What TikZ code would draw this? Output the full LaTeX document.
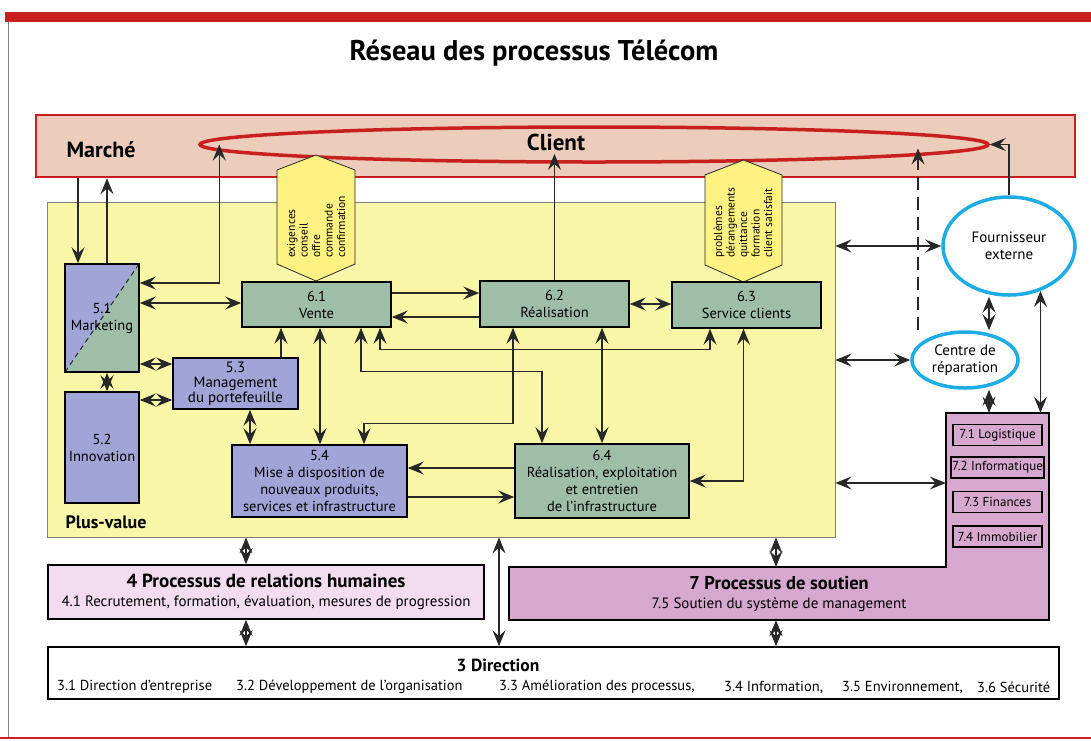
\documentclass[tikz,border=0pt]{standalone}
\usepackage{fontspec}
\setmainfont{PT Sans}
\usetikzlibrary{arrows.meta,shapes.geometric}

\definecolor{bandred}{RGB}{200,32,30}
\definecolor{peach}{RGB}{236,204,186}
\definecolor{pvyellow}{RGB}{250,246,168}
\definecolor{hexyellow}{RGB}{255,242,130}
\definecolor{boxblue}{RGB}{160,164,214}
\definecolor{boxgreen}{RGB}{158,190,168}
\definecolor{rhpink}{RGB}{243,220,240}
\definecolor{soutmauve}{RGB}{215,168,207}
\definecolor{ringcyan}{RGB}{30,172,228}
\definecolor{linegray}{RGB}{40,40,40}

\tikzset{bigtip/.tip={Stealth[length=16pt,width=13pt,inset=6pt]}}

\begin{document}
\begin{tikzpicture}[x=1pt,y=-1pt,
    conn/.style={draw=linegray,line width=1.1pt},
    onearrow/.style={conn,-bigtip},
    twoarrow/.style={conn,bigtip-bigtip},
    proc/.style={draw=black,line width=1.6pt,inner sep=0pt,align=center,font=\fontsize{14.5}{17}\selectfont},
    procblue/.style={proc,fill=boxblue},
    procgreen/.style={proc,fill=boxgreen},
    subproc/.style={draw=black,line width=1.4pt,fill=soutmauve,minimum width=89pt,minimum height=21pt,inner sep=1pt,font=\fontsize{13}{14}\selectfont},
    hextext/.style={rotate=90,anchor=west,align=left,inner sep=0pt,font=\fontsize{11.5}{12.5}\selectfont},
    hexbox/.style={fill=hexyellow,draw=linegray,line width=0.8pt},
    partner/.style={ellipse,draw=ringcyan,line width=3.5pt,fill=white,inner sep=0pt,align=center,font=\fontsize{15}{17}\selectfont},
    headtext/.style={font=\fontsize{23}{26}\selectfont\bfseries},
    grouptext/.style={inner sep=0pt,align=center,font=\fontsize{15}{19}\selectfont},
    dirtext/.style={anchor=west,inner sep=0pt,font=\fontsize{14.5}{16}\selectfont}]

  \useasboundingbox (0,0) rectangle (1091,740);
  \fill[white] (0,0) rectangle (1091,740);
  \fill[bandred] (5,12) rectangle (1091,22);
  \draw[gray,line width=0.8pt] (8,22) -- (8,737);
  \draw[bandred,line width=1.5pt] (0,738) -- (1091,738);

  \node[font=\fontsize{28.5}{32}\selectfont\bfseries] (titre) at (534,53) {Réseau des processus Télécom};

  \node[draw=bandred,line width=2.5pt,fill=peach,minimum width=1039pt,minimum height=62pt] (market) at (555.5,146) {};
  \node[ellipse,draw=bandred,line width=3.5pt,minimum width=788pt,minimum height=35pt,inner sep=0pt] (ring) at (594,144.5) {};
  \node[headtext,font=\fontsize{22}{26}\selectfont\bfseries] (marche) at (101,150) {Marché};
  \node[headtext] (client) at (556,142) {Client};

  \node[draw=gray,line width=0.8pt,fill=pvyellow,minimum width=788pt,minimum height=335pt] (pv) at (441,369.5) {};
  \node[font=\fontsize{18}{20}\selectfont\bfseries] (pvlabel) at (106,522) {Plus-value};

  \filldraw[hexbox] (316,155) -- (355,170) -- (355,264) -- (316,281) -- (277,264) -- (277,170) -- cycle;
  \node[hextext] (exig) at (316,258) {exigences\\conseil\\offre\\commande\\confirmation};
  \filldraw[hexbox] (743.5,160) -- (782,175) -- (782,265) -- (743.5,282) -- (705,265) -- (705,175) -- cycle;
  \node[hextext] (probl) at (743,258) {problèmes\\dérangements\\quittance\\formation\\client satisfait};

  \node[procgreen,minimum width=74pt,minimum height=108pt,
    path picture={\fill[boxblue] (path picture bounding box.south west) -- (path picture bounding box.north west) -- (path picture bounding box.north east) -- cycle;
      \draw[linegray,line width=1pt,dash pattern=on 5pt off 4pt] (path picture bounding box.south west) -- (path picture bounding box.north east);}]
    (mkt) at (102,318) {5.1\\Marketing};
  \node[procblue,minimum width=74pt,minimum height=111pt] (inno) at (102,447.5) {5.2\\Innovation};
  \node[procblue,minimum width=125pt,minimum height=51pt,font=\fontsize{15}{15}\selectfont] (portf) at (235.5,383.5) {5.3\\Management\\du portefeuille};
  \node[procblue,minimum width=175pt,minimum height=72pt] (mad) at (319.5,481) {5.4\\Mise à disposition de\\nouveaux produits,\\services et infrastructure};
  \node[procgreen,minimum width=149pt,minimum height=45pt] (vente) at (316.5,304.5) {6.1\\Vente};
  \node[procgreen,minimum width=149pt,minimum height=46pt] (real) at (554.5,304) {6.2\\Réalisation};
  \node[procgreen,minimum width=149pt,minimum height=46pt] (serv) at (746.5,305) {6.3\\Service clients};
  \node[procgreen,minimum width=174pt,minimum height=74pt] (infra) at (602,481) {6.4\\Réalisation, exploitation\\et entretien\\de l'infrastructure};

  \node[partner,minimum width=132pt,minimum height=98pt] (fourn) at (1009,246) {Fournisseur\\externe};
  \node[partner,minimum width=106pt,minimum height=56pt] (centre) at (965,360) {Centre de\\réparation};

  \filldraw[fill=soutmauve,draw=black,line width=1.6pt] (946,413) -- (1049,413) -- (1049,620) -- (509,620) -- (509,567) -- (946,567) -- cycle;
  \node[minimum width=103pt,minimum height=207pt,inner sep=0pt] (col) at (997.5,516.5) {};
  \node[grouptext,minimum width=540pt,minimum height=53pt] (soutien) at (779,593.5)
    {{\fontsize{18.5}{19}\selectfont\bfseries 7 Processus de soutien}\\7.5 Soutien du système de management};
  \node[subproc] (logist) at (997.5,435) {7.1 Logistique};
  \node[subproc] (inform) at (997.5,467.5) {7.2 Informatique};
  \node[subproc] (financ) at (997.5,502) {7.3 Finances};
  \node[subproc] (immob) at (997.5,536.5) {7.4 Immobilier};

  \node[grouptext,draw=black,line width=1.6pt,fill=rhpink,minimum width=436pt,minimum height=54pt] (rh) at (266,592)
    {{\fontsize{19}{19}\selectfont\bfseries 4 Processus de relations humaines}\\4.1 Recrutement, formation, évaluation, mesures de progression};
  \node[draw=black,line width=1.6pt,fill=white,minimum width=1011pt,minimum height=52pt] (dir) at (553.5,673) {};
  \node[font=\fontsize{17.5}{20}\selectfont\bfseries] (dirtitle) at (498,665) {3 Direction};
  \node[dirtext] (d1) at (57,687) {3.1 Direction d'entreprise};
  \node[dirtext] (d2) at (236,687) {3.2 Développement de l'organisation};
  \node[dirtext] (d3) at (499,687) {3.3 Amélioration des processus,};
  \node[dirtext] (d4) at (724,687) {3.4 Information,};
  \node[dirtext] (d5) at (842,687) {3.5 Environnement,};
  \node[dirtext] (d6) at (977,687) {3.6 Sécurité};

  \begin{scope}[onearrow]
    \draw ([xshift=-24pt]mkt.north |- market.south) -- ([xshift=-24pt]mkt.north);
    \draw ([xshift=5pt]mkt.north) -- ([xshift=5pt]mkt.north |- market.south);
    \draw ([xshift=45.5pt]portf.north) -- ([xshift=45.5pt]portf.north |- vente.south);
    \draw ([yshift=11.5pt]vente.east) -- ([yshift=11.5pt]vente.east -| real.west);
    \draw ([yshift=-13pt]real.west) -- ([yshift=-13pt]real.west -| vente.east);
    \draw ([yshift=13pt]infra.west) -- ([yshift=13pt]infra.west -| mad.east);
    \draw ([yshift=-16pt]mad.east) -- ([yshift=-16pt]mad.east -| infra.west);
    \draw (real.north) -- (real.north |- client.south);
    \draw (fourn.north) |- (ring.east);
    \draw[dash pattern=on 13pt off 7pt,shorten >=4pt] ([xshift=-47pt]centre.north) -- ([xshift=-47pt]centre.north |- ring.center);
  \end{scope}
  \begin{scope}[twoarrow]
    \draw ([yshift=35pt]mkt.east) -| ([xshift=21pt]ring.west);
    \draw ([yshift=15pt]mkt.east) -- ([yshift=15pt]mkt.east -| vente.west);
    \draw ([yshift=-46pt]mkt.east) -- ([yshift=-46pt]mkt.east -| portf.west);
    \draw ([yshift=47.5pt]inno.east) -- ([yshift=47.5pt]inno.east -| portf.west);
    \draw ([xshift=5pt]mkt.south) -- ([xshift=5pt]inno.north);
    \draw ([xshift=14.5pt]portf.south) -- ([xshift=14.5pt]portf.south |- mad.north);
    \draw ([xshift=3.5pt]vente.south) -- ([xshift=3.5pt]vente.south |- mad.north);
    \draw ([xshift=63.5pt]vente.south) -- ++(0,22) -| ([xshift=-36.5pt]serv.south);
    \draw ([xshift=44.5pt]vente.south) -- ++(0,44) -| ([xshift=-60pt]infra.north);
    \draw ([xshift=-41.5pt]real.south) -- ++(0,96) -| ([xshift=44.5pt]mad.north);
    \draw (real.east) -- (real.east -| serv.west);
    \draw (infra.north |- real.south) -- (infra.north);
    \draw ([xshift=-3pt]serv.south) |- (infra.east);
    \draw (pv.east |- fourn.west) -- (fourn.west);
    \draw (pv.east |- centre.west) -- (centre.west);
    \draw ([yshift=33.5pt]col.west -| pv.east) -- ([yshift=33.5pt]col.west);
    \draw ([xshift=-20pt]fourn.south) -- ([xshift=-20pt]fourn.south |- centre.north);
    \draw ([xshift=24pt]centre.south) -- ([xshift=24pt]centre.south |- col.north);
    \draw (fourn.-55) -- (fourn.-55 |- col.north);
    \draw ([xshift=-20pt]rh.north |- pv.south) -- ([xshift=-20pt]rh.north);
    \draw ([xshift=-20pt]rh.south) -- ([xshift=-20pt]rh.south |- dir.north);
    \draw ([xshift=58pt]pv.south) -- ([xshift=58pt]pv.south |- dir.north);
    \draw ([xshift=-3pt]soutien.north |- pv.south) -- ([xshift=-3pt]soutien.north);
    \draw ([xshift=-3pt]soutien.south) -- ([xshift=-3pt]soutien.south |- dir.north);
  \end{scope}
\end{tikzpicture}
\end{document}
